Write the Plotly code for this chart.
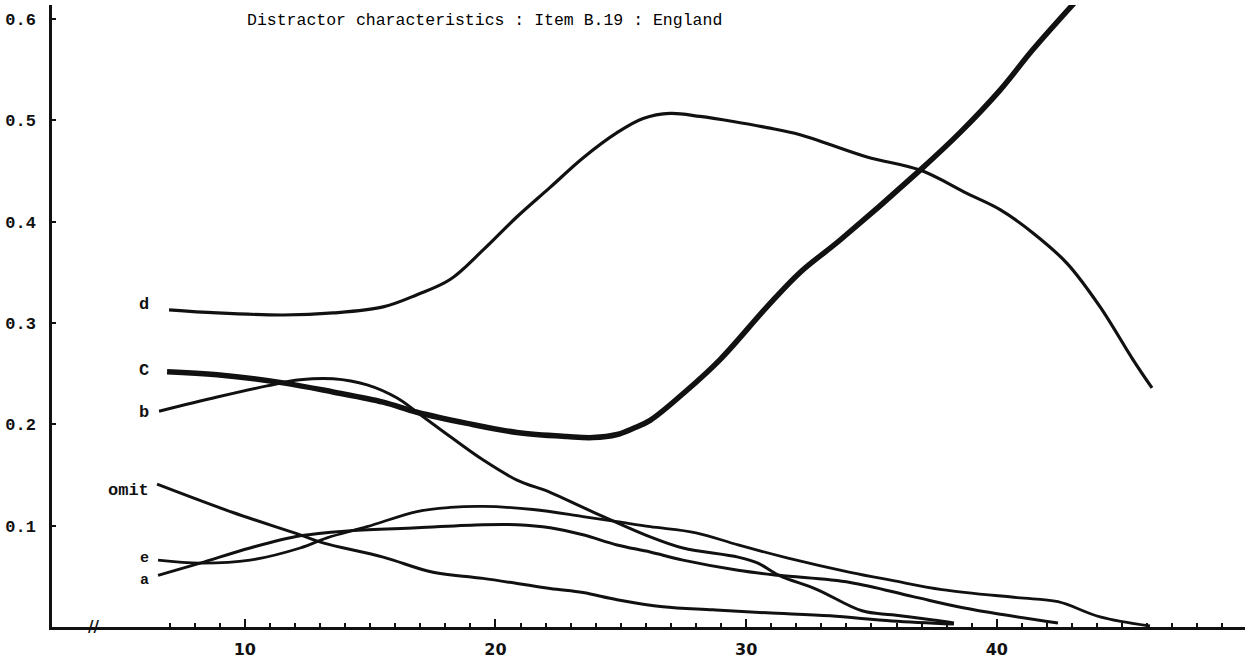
import plotly.graph_objects as go

# ---------------- data ----------------
d_x = [6.98, 8.90, 11.53, 13.52, 15.52, 16.87, 18.19, 19.50, 20.86, 22.18, 23.49, 24.85, 25.89,
       26.97, 28.16, 29.48, 30.83, 32.15, 34.82, 36.94, 38.81, 40.13, 41.44, 42.80, 44.12, 45.43, 46.19]
d_y = [0.313, 0.310, 0.308, 0.310, 0.316, 0.328, 0.343, 0.372, 0.405, 0.434, 0.463, 0.488, 0.502,
       0.507, 0.504, 0.499, 0.493, 0.486, 0.464, 0.451, 0.428, 0.412, 0.389, 0.359, 0.316, 0.264, 0.236]

c_x = [6.90, 8.90, 11.53, 13.52, 15.52, 16.87, 18.87, 20.86, 22.86, 23.89, 24.85, 25.49, 26.17,
       27.56, 28.96, 30.83, 32.15, 33.75, 36.94, 38.53, 40.13, 41.44, 43.20]
c_y = [0.252, 0.249, 0.241, 0.232, 0.222, 0.212, 0.201, 0.192, 0.188, 0.187, 0.190, 0.196, 0.204,
       0.232, 0.264, 0.316, 0.350, 0.382, 0.451, 0.488, 0.530, 0.570, 0.619]

b_x = [6.58, 8.90, 10.89, 12.21, 13.52, 14.88, 16.08, 16.87, 18.19, 19.50, 20.86, 22.18, 23.49,
       24.57, 25.97, 27.48, 29.68, 30.47, 31.31, 32.83, 34.62, 35.82, 37.46, 38.29]
b_y = [0.213, 0.227, 0.238, 0.244, 0.245, 0.239, 0.226, 0.212, 0.188, 0.165, 0.145, 0.133, 0.118,
       0.106, 0.091, 0.078, 0.069, 0.063, 0.051, 0.037, 0.016, 0.012, 0.007, 0.004]

omit_x = [6.50, 9.53, 12.21, 13.12, 15.52, 17.51, 19.50, 22.18, 23.49, 24.85, 26.68, 28.68,
          30.83, 33.35, 35.82, 38.29]
omit_y = [0.141, 0.113, 0.091, 0.083, 0.069, 0.054, 0.048, 0.038, 0.034, 0.027, 0.020, 0.017,
          0.014, 0.011, 0.006, 0.003]

e_x = [6.54, 8.22, 10.21, 12.21, 13.28, 14.88, 16.87, 18.19, 19.50, 21.50, 23.49, 24.85, 26.17,
       28.00, 29.68, 31.67, 34.15, 35.82, 37.81, 40.81, 42.44, 44.12, 46.11]
e_y = [0.066, 0.063, 0.066, 0.078, 0.088, 0.099, 0.114, 0.118, 0.119, 0.116, 0.109, 0.104, 0.099,
       0.093, 0.081, 0.068, 0.054, 0.046, 0.037, 0.029, 0.025, 0.010, 0.001]

a_x = [6.54, 8.22, 10.21, 12.21, 14.20, 16.87, 19.50, 20.86, 22.18, 23.49, 24.85, 26.17, 27.48,
       29.68, 31.31, 34.15, 36.66, 38.65, 40.29, 42.44]
a_y = [0.051, 0.063, 0.078, 0.090, 0.095, 0.098, 0.101, 0.101, 0.098, 0.091, 0.081, 0.074, 0.066,
       0.056, 0.051, 0.044, 0.030, 0.019, 0.012, 0.004]

curve_labels = ["d", "C", "b", "omit", "e", "a"]
label_y = [0.318, 0.253, 0.212, 0.135, 0.068, 0.046]
label_size = [17, 17, 17, 17, 15, 15]

y_tick_vals = [0.1, 0.2, 0.3, 0.4, 0.5, 0.6]
y_tick_text = ["0.1", "0.2", "0.3", "0.4", "0.5", "0.6"]
x_tick_vals = [10, 15, 20, 25, 30, 35, 40, 45]
x_tick_text = ["10", "", "20", "", "30", "", "40", ""]

title_text = "Distractor characteristics : Item B.19 : England"

# ---------------- figure ----------------
INK = "#111111"
fig = go.Figure()

series = [
    (d_x, d_y, 3.2),
    (c_x, c_y, 5.5),
    (b_x, b_y, 3.0),
    (omit_x, omit_y, 3.0),
    (e_x, e_y, 2.8),
    (a_x, a_y, 3.0),
]
for xs, ys, w in series:
    fig.add_trace(go.Scatter(
        x=xs, y=ys, mode="lines",
        line=dict(color=INK, width=w, shape="spline", smoothing=1.0),
        hoverinfo="skip", showlegend=False,
    ))

for txt, yy, sz in zip(curve_labels, label_y, label_size):
    fig.add_annotation(
        x=6.2, y=yy, xref="x", yref="y", text=txt, showarrow=False,
        xanchor="right", yanchor="middle", borderpad=0,
        font=dict(family="Liberation Mono", size=sz, color=INK, weight="bold"),
    )

# axis break mark
fig.add_annotation(
    x=3.95, y=0, xref="x", yref="y", text="//", showarrow=False,
    xanchor="center", yanchor="middle",
    font=dict(family="DejaVu Sans", size=15, color=INK, weight="bold"),
)

fig.add_annotation(
    x=0.162, y=0.975, xref="paper", yref="paper", text=title_text, showarrow=False,
    xanchor="left", yanchor="middle",
    font=dict(family="Liberation Mono", size=16.5, color="#000000"),
)

fig.update_layout(
    width=1250, height=666,
    margin=dict(l=52, r=5, t=5, b=39),
    paper_bgcolor="white", plot_bgcolor="white",
    showlegend=False,
)

fig.update_xaxes(
    range=[2.31, 49.9], showgrid=False, zeroline=False,
    showline=True, linecolor=INK, linewidth=2.5,
    tickmode="array", tickvals=x_tick_vals, ticktext=x_tick_text,
    ticks="inside", ticklen=8, tickwidth=2, tickcolor=INK,
    ticklabelstandoff=6,
    tickfont=dict(family="DejaVu Sans", size=16, color=INK, weight="bold"),
    minor=dict(tickvals=list(range(7, 50)), ticks="inside", ticklen=4,
               tickwidth=2, tickcolor=INK, showgrid=False),
)

fig.update_yaxes(
    range=[0, 0.614], showgrid=False, zeroline=False,
    showline=True, linecolor=INK, linewidth=2.5,
    tickmode="array", tickvals=y_tick_vals, ticktext=y_tick_text,
    ticks="inside", ticklen=4, tickwidth=2, tickcolor=INK,
    ticklabelstandoff=10,
    tickfont=dict(family="Liberation Mono", size=17, color=INK, weight="bold"),
)

fig.write_html("out.html", config={"displayModeBar": False})
